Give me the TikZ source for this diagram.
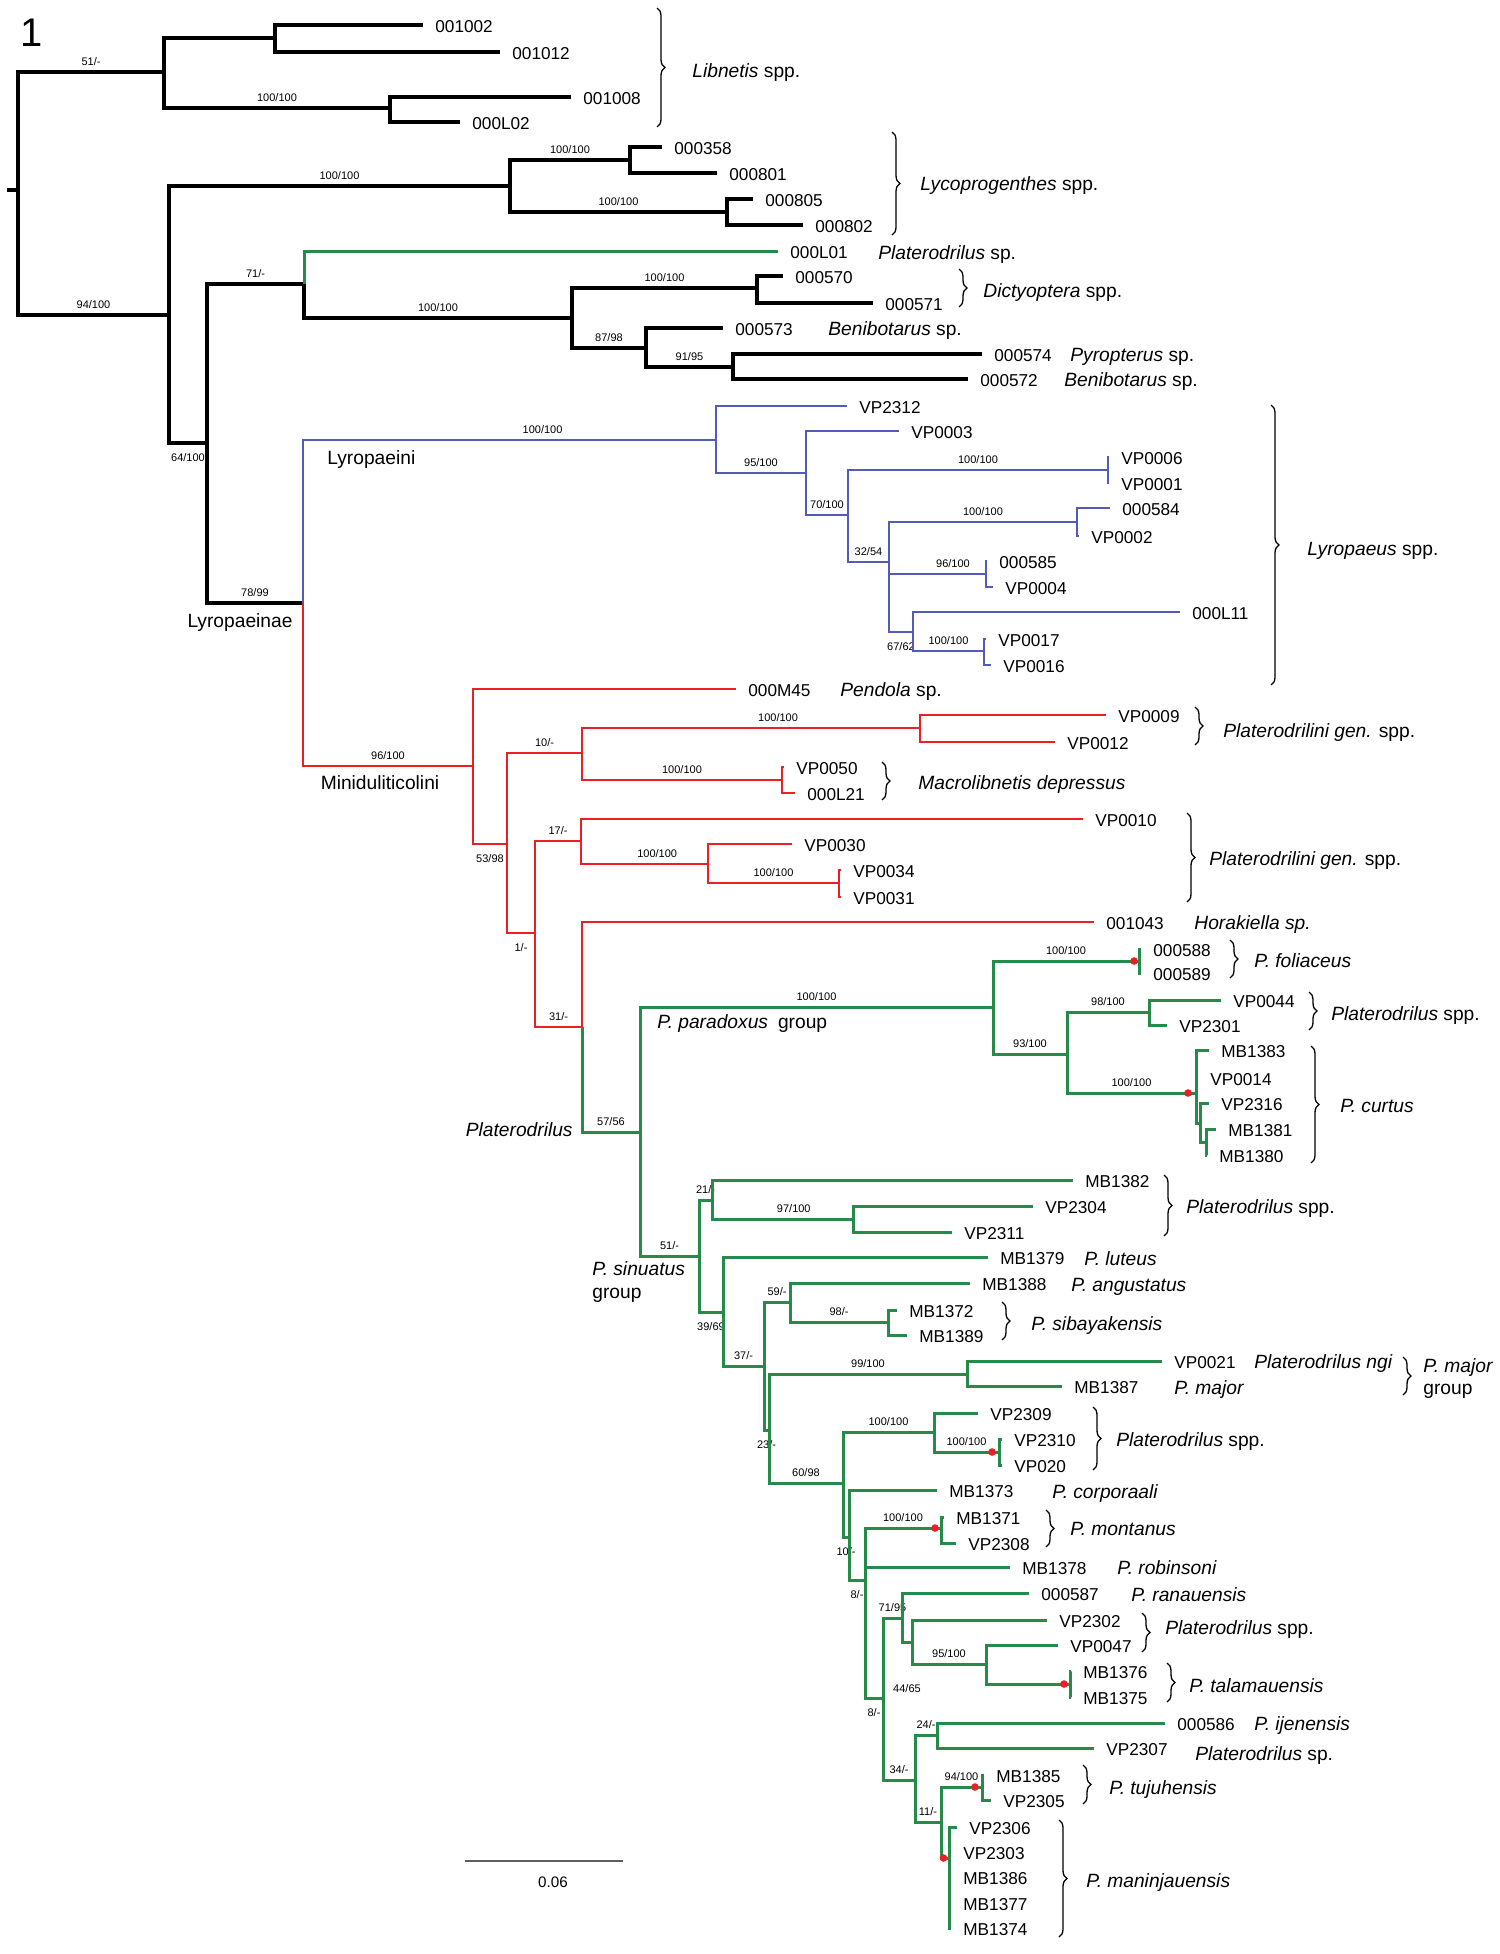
\documentclass[tikz,border=0pt]{standalone}
\usepackage{fontspec}
\setmainfont{Liberation Sans}
\usepackage{xcolor}
\usepackage{tikz}
\usetikzlibrary{decorations.pathreplacing}

\definecolor{brgreen}{RGB}{38,139,74}
\definecolor{brred}{RGB}{236,32,36}
\definecolor{brblue}{RGB}{82,92,184}
\definecolor{bargray}{RGB}{95,95,95}

\begin{document}
\begin{tikzpicture}[
    x=0.5pt, y=-0.5pt,
    blk/.style={draw=black, line width=1.6pt},
    grn/.style={draw=brgreen, line width=1.5pt},
    rd/.style={draw=brred, line width=1.35pt},
    blu/.style={draw=brblue, line width=1.15pt},
    taxon/.style={anchor=west, inner xsep=6pt, inner ysep=1pt, font=\fontsize{8.6}{10}\selectfont, text height=0.72em, text depth=0pt},
    spec/.style={anchor=west, inner sep=0pt, font=\fontsize{9.6}{11}\selectfont, text height=0.72em, text depth=0pt},
    clade/.style={inner sep=0pt, font=\fontsize{9.6}{11}\selectfont, text height=0.72em, text depth=0pt},
    bs/.style={font=\fontsize{5.5}{6}\selectfont, inner sep=0pt, pos=0.75, above=2.6pt},
    bsb/.style={font=\fontsize{5.5}{6}\selectfont, inner sep=0pt, pos=0.75, below=4.6pt},
    brc/.style={decorate, decoration={brace, amplitude=4pt}, draw=black, line width=0.65pt},
    rdot/.style={fill=brred}
]
    \useasboundingbox (0,0) rectangle (1499,1954);

    \node[font=\fontsize{20}{24}\selectfont, inner sep=0pt] (fignum) at (32,33) {1};

    % Gốc cây + Libnetis (y = 8 .. 127)
    \coordinate (rs) at (7,190);
    \coordinate (r0) at (18,190);
    \coordinate (nA) at (164,72);
    \coordinate (nB) at (275,38);
    \coordinate (nC) at (390,108);
    \node[taxon] (t001002) at (423,25) {001002};
    \node[taxon] (t001012) at (500,52) {001012};
    \node[taxon] (t001008) at (571,97) {001008};
    \node[taxon] (t000L02) at (460,122) {000L02};

    \draw[blk] (rs) -- (r0);
    \draw[blk] (r0) |- node[bs] (bA) {51/-} (nA);
    \draw[blk] (nA) |- (nB);
    \draw[blk] (nB) |- (t001002.west);
    \draw[blk] (nB) |- (t001012.west);
    \draw[blk] (nA) |- node[bs] (bC) {100/100} (nC);
    \draw[blk] (nC) |- (t001008.west);
    \draw[blk] (nC) |- (t000L02.west);

    % Lycoprogenthes (y = 132 .. 235)
    \coordinate (nD) at (169,315);
    \coordinate (nE) at (510,186);
    \coordinate (nF) at (630,160);
    \coordinate (nG) at (727,212);
    \node[taxon] (t000358) at (662,147) {000358};
    \node[taxon] (t000801) at (717,173) {000801};
    \node[taxon] (t000805) at (753,199) {000805};
    \node[taxon] (t000802) at (803,225) {000802};

    \draw[blk] (r0) |- node[bs] (bD) {94/100} (nD);
    \draw[blk] (nD) |- node[bs] (bE) {100/100} (nE);
    \draw[blk] (nE) |- node[bs] (bF) {100/100} (nF);
    \draw[blk] (nF) |- (t000358.west);
    \draw[blk] (nF) |- (t000801.west);
    \draw[blk] (nE) |- node[bs] (bG) {100/100} (nG);
    \draw[blk] (nG) |- (t000805.west);
    \draw[blk] (nG) |- (t000802.west);

    % 000L01, Dictyoptera, Benibotarus, Pyropterus
    \coordinate (nH) at (207,443);
    \coordinate (nI) at (304,284);
    \coordinate (nJ) at (572,318);
    \coordinate (nK) at (757,288);
    \coordinate (nL) at (646,348);
    \coordinate (nM) at (733,367);
    \node[taxon] (t000L01) at (778,251) {000L01};
    \node[taxon] (t000570) at (783,276) {000570};
    \node[taxon] (t000571) at (873,303) {000571};
    \node[taxon] (t000573) at (723,328) {000573};
    \node[taxon] (t000574) at (982,354) {000574};
    \node[taxon] (t000572) at (968,379) {000572};

    \draw[blk] (nD) |- node[bsb] (bH) {64/100} (nH);
    \draw[blk] (nH) |- node[bs] (bI) {71/-} (nI);
    \draw[grn] (nI) |- (t000L01.west);
    \draw[blk] (nI) |- node[bs] (bJ) {100/100} (nJ);
    \draw[blk] (nJ) |- node[bs] (bK) {100/100} (nK);
    \draw[blk] (nK) |- (t000570.west);
    \draw[blk] (nK) |- (t000571.west);
    \draw[blk] (nJ) |- node[bs] (bL) {87/98} (nL);
    \draw[blk] (nL) |- (t000573.west);
    \draw[blk] (nL) |- node[bs] (bM) {91/95} (nM);
    \draw[blk] (nM) |- (t000574.west);
    \draw[blk] (nM) |- (t000572.west);

    % Lyropaeinae -> Lyropaeini (xanh dương)
    \coordinate (nN) at (303,603);
    \coordinate (nO) at (716,440);
    \coordinate (nP) at (806,473);
    \coordinate (nQ) at (848,515);
    \coordinate (nQa) at (1108,470);
    \coordinate (nR) at (889,562);
    \coordinate (nS) at (1077,522);
    \coordinate (nT) at (986,574);
    \coordinate (nU) at (913,632);
    \coordinate (nV) at (984,651);
    \node[taxon] (tVP2312) at (847,406) {VP2312};
    \node[taxon] (tVP0003) at (899,431) {VP0003};
    \node[taxon] (tVP0006) at (1109,457) {VP0006};
    \node[taxon] (tVP0001) at (1109,483) {VP0001};
    \node[taxon] (t000584) at (1110,508) {000584};
    \node[taxon] (tVP0002) at (1079,536) {VP0002};
    \node[taxon] (t000585) at (987,561) {000585};
    \node[taxon] (tVP0004) at (993,587) {VP0004};
    \node[taxon] (t000L11) at (1180,612) {000L11};
    \node[taxon] (tVP0017) at (986,639) {VP0017};
    \node[taxon] (tVP0016) at (991,665) {VP0016};

    \draw[blk] (nH) |- node[bs] (bN) {78/99} (nN);
    \draw[blu] (nN) |- node[bs, pos=0.79] (bO) {100/100} (nO);
    \draw[blu] (nO) |- (tVP2312.west);
    \draw[blu] (nO) |- node[bs] (bP) {95/100} (nP);
    \draw[blu] (nP) |- (tVP0003.west);
    \draw[blu] (nP) |- node[bs] (bQ) {70/100} (nQ);
    \draw[blu] (nQ) |- node[bs] (bQa) {100/100} (nQa);
    \draw[blu] (nQa) |- (tVP0006.west);
    \draw[blu] (nQa) |- (tVP0001.west);
    \draw[blu] (nQ) |- node[bs] (bR) {32/54} (nR);
    \draw[blu] (nR) |- node[bs] (bS) {100/100} (nS);
    \draw[blu] (nS) |- (t000584.west);
    \draw[blu] (nS) |- (tVP0002.west);
    \draw[blu] (nR) |- node[bs, pos=0.83] (bT) {96/100} (nT);
    \draw[blu] (nT) |- (t000585.west);
    \draw[blu] (nT) |- (tVP0004.west);
    \draw[blu] (nR) |- node[bsb] (bU) {67/62} (nU);
    \draw[blu] (nU) |- (t000L11.west);
    \draw[blu] (nU) |- node[bs] (bV) {100/100} (nV);
    \draw[blu] (nV) |- (tVP0017.west);
    \draw[blu] (nV) |- (tVP0016.west);

    % Miniduliticolini (đỏ)
    \coordinate (nW) at (473,766);
    \coordinate (nX) at (507,844);
    \coordinate (nY) at (582,753);
    \coordinate (nZ) at (920,728);
    \coordinate (nYb) at (782,780);
    \coordinate (nAA) at (535,933);
    \coordinate (nAB) at (581,841);
    \coordinate (nAC) at (708,864);
    \coordinate (nAD) at (839,883);
    \coordinate (nAE) at (582,1027);
    \node[taxon] (t000M45) at (736,689) {000M45};
    \node[taxon] (tVP0009) at (1106,715) {VP0009};
    \node[taxon] (tVP0012) at (1055,742) {VP0012};
    \node[taxon] (tVP0050) at (784,767) {VP0050};
    \node[taxon] (t000L21) at (795,793) {000L21};
    \node[taxon] (tVP0010) at (1083,819) {VP0010};
    \node[taxon] (tVP0030) at (792,844) {VP0030};
    \node[taxon] (tVP0034) at (841,870) {VP0034};
    \node[taxon] (tVP0031) at (841,897) {VP0031};
    \node[taxon] (t001043) at (1094,922) {001043};

    \draw[rd] (nN) |- node[bs] (bW) {96/100} (nW);
    \draw[rd] (nW) |- (t000M45.west);
    \draw[rd] (nW) |- node[bsb] (bX) {53/98} (nX);
    \draw[rd] (nX) |- node[bs] (bY) {10/-} (nY);
    \draw[rd] (nY) |- node[bs, pos=0.79] (bZ) {100/100} (nZ);
    \draw[rd] (nZ) |- (tVP0009.west);
    \draw[rd] (nZ) |- (tVP0012.west);
    \draw[rd] (nY) |- node[bs] (bYb) {100/100} (nYb);
    \draw[rd] (nYb) |- (tVP0050.west);
    \draw[rd] (nYb) |- (t000L21.west);
    \draw[rd] (nX) |- node[bsb] (bAA) {1/-} (nAA);
    \draw[rd] (nAA) |- node[bs] (bAB) {17/-} (nAB);
    \draw[rd] (nAB) |- (tVP0010.west);
    \draw[rd] (nAB) |- node[bs, pos=0.8] (bAC) {100/100} (nAC);
    \draw[rd] (nAC) |- (tVP0030.west);
    \draw[rd] (nAC) |- node[bs] (bAD) {100/100} (nAD);
    \draw[rd] (nAD) |- (tVP0034.west);
    \draw[rd] (nAD) |- (tVP0031.west);
    \draw[rd] (nAA) |- node[bs] (bAE) {31/-} (nAE);
    \draw[rd] (nAE) |- (t001043.west);

    % Platerodrilus: nhóm P. paradoxus (xanh lá)
    \coordinate (nAF) at (640,1132);
    \coordinate (nAG) at (993,1007);
    \coordinate (nAGa) at (1139,961);
    \coordinate (nAH) at (1067,1054);
    \coordinate (nAI) at (1149,1012);
    \coordinate (nAJ) at (1196,1093);
    \coordinate (nAJb) at (1200,1123);
    \coordinate (nAJc) at (1206,1142);
    \node[taxon] (t000588) at (1141,949) {000588};
    \node[taxon] (t000589) at (1141,973) {000589};
    \node[taxon] (tVP0044) at (1221,1000) {VP0044};
    \node[taxon] (tVP2301) at (1167,1025) {VP2301};
    \node[taxon] (tMB1383) at (1209,1050) {MB1383};
    \node[taxon] (tVP0014) at (1198,1078) {VP0014};
    \node[taxon] (tVP2316) at (1209,1103) {VP2316};
    \node[taxon] (tMB1381) at (1216,1129) {MB1381};
    \node[taxon] (tMB1380) at (1207,1155) {MB1380};

    \draw[grn] (nAE) |- node[bs] (bAF) {57/56} (nAF);
    \draw[grn] (nAF) |- node[bs] (bAG) {100/100} (nAG);
    \draw[grn] (nAG) |- node[bs] (bAGa) {100/100} (nAGa);
    \draw[grn] (nAGa) |- (t000588.west);
    \draw[grn] (nAGa) |- (t000589.west);
    \draw[grn] (nAG) |- node[bs] (bAH) {93/100} (nAH);
    \draw[grn] (nAH) |- node[bs] (bAI) {98/100} (nAI);
    \draw[grn] (nAI) |- (tVP0044.west);
    \draw[grn] (nAI) |- (tVP2301.west);
    \draw[grn] (nAH) |- node[bs] (bAJ) {100/100} (nAJ);
    \draw[grn] (nAJ) |- (tMB1383.west);
    \draw[grn] (nAJ) |- (nAJb);
    \draw[grn] (nAJb) |- (tVP2316.west);
    \draw[grn] (nAJb) |- (nAJc);
    \draw[grn] (nAJc) |- (tMB1381.west);
    \draw[grn] (nAJc) |- (tMB1380.west);

    % Platerodrilus: nhóm P. sinuatus
    \coordinate (nAK) at (699,1256);
    \coordinate (nAL) at (712,1200);
    \coordinate (nAM) at (853,1219);
    \coordinate (nAN) at (723,1312);
    \coordinate (nAO) at (764,1366);
    \coordinate (nAP) at (790,1302);
    \coordinate (nAR) at (888,1322);
    \coordinate (nAQ) at (769,1430);
    \coordinate (nAS) at (967,1374);
    \node[taxon] (tMB1382) at (1073,1180) {MB1382};
    \node[taxon] (tVP2304) at (1033,1206) {VP2304};
    \node[taxon] (tVP2311) at (952,1232) {VP2311};
    \node[taxon] (tMB1379) at (988,1257) {MB1379};
    \node[taxon] (tMB1388) at (970,1283) {MB1388};
    \node[taxon] (tMB1372) at (897,1310) {MB1372};
    \node[taxon] (tMB1389) at (907,1335) {MB1389};
    \node[taxon] (tVP0021) at (1162,1361) {VP0021};
    \node[taxon] (tMB1387) at (1062,1386) {MB1387};

    \draw[grn] (nAF) |- node[bs] (bAK) {51/-} (nAK);
    \draw[grn] (nAK) |- node[bs] (bAL) {21/-} (nAL);
    \draw[grn] (nAL) |- (tMB1382.west);
    \draw[grn] (nAL) |- node[bs, pos=0.79] (bAM) {97/100} (nAM);
    \draw[grn] (nAM) |- (tVP2304.west);
    \draw[grn] (nAM) |- (tVP2311.west);
    \draw[grn] (nAK) |- node[bsb] (bAN) {39/69} (nAN);
    \draw[grn] (nAN) |- (tMB1379.west);
    \draw[grn] (nAN) |- node[bs] (bAO) {37/-} (nAO);
    \draw[grn] (nAO) |- node[bs] (bAP) {59/-} (nAP);
    \draw[grn] (nAP) |- (tMB1388.west);
    \draw[grn] (nAP) |- node[bs] (bAR) {98/-} (nAR);
    \draw[grn] (nAR) |- (tMB1372.west);
    \draw[grn] (nAR) |- (tMB1389.west);
    \draw[grn] (nAO) |- node[bsb] (bAQ) {23/-} (nAQ);
    \draw[grn] (nAQ) |- node[bs] (bAS) {99/100} (nAS);
    \draw[grn] (nAS) |- (tVP0021.west);
    \draw[grn] (nAS) |- (tMB1387.west);

    % Platerodrilus: các nhánh dưới cùng
    \coordinate (nAT) at (843,1483);
    \coordinate (nAU) at (934,1432);
    \coordinate (nAV) at (999,1452);
    \coordinate (nAW) at (849,1537);
    \coordinate (nAX) at (865,1580);
    \coordinate (nAXa) at (941,1528);
    \coordinate (nAY) at (883,1698);
    \coordinate (nAZ) at (902,1618);
    \coordinate (nBA) at (912,1642);
    \coordinate (nBB) at (986,1664);
    \coordinate (nBBa) at (1070,1684);
    \coordinate (nBC) at (915,1780);
    \coordinate (nBD) at (937,1735);
    \coordinate (nBE) at (941,1822);
    \coordinate (nBF) at (982,1787);
    \coordinate (nBG) at (949,1858);
    \node[taxon] (tVP2309) at (978,1413) {VP2309};
    \node[taxon] (tVP2310) at (1002,1439) {VP2310};
    \node[taxon] (tVP020) at (1002,1465) {VP020};
    \node[taxon] (tMB1373) at (937,1490) {MB1373};
    \node[taxon] (tMB1371) at (944,1517) {MB1371};
    \node[taxon] (tVP2308) at (956,1543) {VP2308};
    \node[taxon] (tMB1378) at (1010,1567) {MB1378};
    \node[taxon] (t000587) at (1029,1593) {000587};
    \node[taxon] (tVP2302) at (1047,1620) {VP2302};
    \node[taxon] (tVP0047) at (1058,1645) {VP0047};
    \node[taxon] (tMB1376) at (1071,1671) {MB1376};
    \node[taxon] (tMB1375) at (1071,1697) {MB1375};
    \node[taxon] (t000586) at (1165,1723) {000586};
    \node[taxon] (tVP2307) at (1094,1748) {VP2307};
    \node[taxon] (tMB1385) at (984,1775) {MB1385};
    \node[taxon] (tVP2305) at (991,1800) {VP2305};
    \node[taxon] (tVP2306) at (957,1827) {VP2306};
    \node[taxon] (tVP2303) at (951,1852) {VP2303};
    \node[taxon] (tMB1386) at (951,1877) {MB1386};
    \node[taxon] (tMB1377) at (951,1903) {MB1377};
    \node[taxon] (tMB1374) at (951,1928) {MB1374};

    \draw[grn] (nAQ) |- node[bs] (bAT) {60/98} (nAT);
    \draw[grn] (nAT) |- node[bs] (bAU) {100/100} (nAU);
    \draw[grn] (nAU) |- (tVP2309.west);
    \draw[grn] (nAU) |- node[bs] (bAV) {100/100} (nAV);
    \draw[grn] (nAV) |- (tVP2310.west);
    \draw[grn] (nAV) |- (tVP020.west);
    \draw[grn] (nAT) |- node[bsb] (bAW) {10/-} (nAW);
    \draw[grn] (nAW) |- (tMB1373.west);
    \draw[grn] (nAW) |- node[bsb] (bAX) {8/-} (nAX);
    \draw[grn] (nAX) |- node[bs] (bAXa) {100/100} (nAXa);
    \draw[grn] (nAXa) |- (tMB1371.west);
    \draw[grn] (nAXa) |- (tVP2308.west);
    \draw[grn] (nAX) |- (tMB1378.west);
    \draw[grn] (nAX) |- node[bsb] (bAY) {8/-} (nAY);
    \draw[grn] (nAY) |- node[bs] (bAZ) {71/95} (nAZ);
    \draw[grn] (nAZ) |- (t000587.west);
    \draw[grn] (nAZ) |- node[bsb, below=16pt] (bBA) {44/65} (nBA);
    \draw[grn] (nBA) |- (tVP2302.west);
    \draw[grn] (nBA) |- node[bs] (bBB) {95/100} (nBB);
    \draw[grn] (nBB) |- (tVP0047.west);
    \draw[grn] (nBB) |- (nBBa);
    \draw[grn] (nBBa) |- (tMB1376.west);
    \draw[grn] (nBBa) |- (tMB1375.west);
    \draw[grn] (nAY) |- node[bs] (bBC) {34/-} (nBC);
    \draw[grn] (nBC) |- node[bs] (bBD) {24/-} (nBD);
    \draw[grn] (nBD) |- (t000586.west);
    \draw[grn] (nBD) |- (tVP2307.west);
    \draw[grn] (nBC) |- node[bs] (bBE) {11/-} (nBE);
    \draw[grn] (nBE) |- node[bs] (bBF) {94/100} (nBF);
    \draw[grn] (nBF) |- (tMB1385.west);
    \draw[grn] (nBF) |- (tVP2305.west);
    \draw[grn] (nBE) |- (nBG);
    \draw[grn] (nBG) |- (tVP2306.west);
    \draw[grn] (nBG) |- (tMB1374.west);

    % chấm đỏ
    \fill[rdot] ([xshift=-2.5pt]nAGa) circle (1.9pt);
    \fill[rdot] ([xshift=-4pt]nAJ) circle (1.9pt);
    \fill[rdot] ([xshift=-3.5pt]nAV) circle (1.9pt);
    \fill[rdot] ([xshift=-3pt]nAXa) circle (1.9pt);
    \fill[rdot] ([xshift=-3pt]nBBa) circle (1.9pt);
    \fill[rdot] ([xshift=-3.5pt]nBF) circle (1.9pt);
    \fill[rdot] ([xshift=-2.75pt]nBG) circle (1.9pt);

    % ngoặc nhọn
    \draw[brc] (657,8) -- (657,127);
    \draw[brc] (892,132) -- (892,235);
    \draw[brc] (959,269) -- (959,307);
    \draw[brc] (1271,405) -- (1271,685);
    \draw[brc] (1195,707) -- (1195,745);
    \draw[brc] (882,762) -- (882,800);
    \draw[brc] (1187,813) -- (1187,902);
    \draw[brc] (1230,940) -- (1230,978);
    \draw[brc] (1309,992) -- (1309,1030);
    \draw[brc] (1311,1046) -- (1311,1163);
    \draw[brc] (1164,1175) -- (1164,1236);
    \draw[brc] (1002,1302) -- (1002,1340);
    \draw[brc] (1403,1357) -- (1403,1395);
    \draw[brc] (1093,1407) -- (1093,1470);
    \draw[brc] (1046,1510) -- (1046,1547);
    \draw[brc] (1142,1613) -- (1142,1652);
    \draw[brc] (1167,1663) -- (1167,1702);
    \draw[brc] (1083,1765) -- (1083,1804);
    \draw[brc] (1059,1820) -- (1059,1937);

    % tên loài
    \node[spec] (lbLib) at (692,70) {\textit{Libnetis} spp.};
    \node[spec] (lbLyc) at (920,183) {\textit{Lycoprogenthes} spp.};
    \node[spec] (lbPla1) at (878,252) {\textit{Platerodrilus} sp.};
    \node[spec] (lbDic) at (983,290) {\textit{Dictyoptera} spp.};
    \node[spec] (lbBen1) at (828,328) {\textit{Benibotarus} sp.};
    \node[spec] (lbPyr) at (1070,354) {\textit{Pyropterus} sp.};
    \node[spec] (lbBen2) at (1064,379) {\textit{Benibotarus} sp.};
    \node[spec] (lbLyr) at (1307,548) {\textit{Lyropaeus} spp.};
    \node[spec] (lbPen) at (840,689) {\textit{Pendola} sp.};
    \node[spec] (lbPgen1) at (1223,730) {\textit{Platerodrilini gen.} spp.};
    \node[spec] (lbMac) at (918,782) {\textit{Macrolibnetis depressus}};
    \node[spec] (lbPgen2) at (1209,858) {\textit{Platerodrilini gen.} spp.};
    \node[spec] (lbHor) at (1194,922) {\textit{Horakiella sp.}};
    \node[spec] (lbFol) at (1254,960) {\textit{P. foliaceus}};
    \node[spec] (lbPla2) at (1331,1013) {\textit{Platerodrilus} spp.};
    \node[spec] (lbCur) at (1340,1105) {\textit{P. curtus}};
    \node[spec] (lbPla3) at (1186,1206) {\textit{Platerodrilus} spp.};
    \node[spec] (lbLut) at (1084,1258) {\textit{P. luteus}};
    \node[spec] (lbAng) at (1071,1284) {\textit{P. angustatus}};
    \node[spec] (lbSib) at (1031,1323) {\textit{P. sibayakensis}};
    \node[spec] (lbNgi) at (1254,1361) {\textit{Platerodrilus ngi}};
    \node[spec] (lbMaj) at (1174,1387) {\textit{P. major}};
    \node[spec] (lbMajG1) at (1423,1365) {\textit{P. major}};
    \node[spec] (lbMajG2) at (1423,1387) {group};
    \node[spec] (lbPla4) at (1116,1439) {\textit{Platerodrilus} spp.};
    \node[spec] (lbCor) at (1052,1491) {\textit{P. corporaali}};
    \node[spec] (lbMon) at (1070,1528) {\textit{P. montanus}};
    \node[spec] (lbRob) at (1117,1567) {\textit{P. robinsoni}};
    \node[spec] (lbRan) at (1131,1594) {\textit{P. ranauensis}};
    \node[spec] (lbPla5) at (1165,1627) {\textit{Platerodrilus} spp.};
    \node[spec] (lbTal) at (1189,1685) {\textit{P. talamauensis}};
    \node[spec] (lbIje) at (1254,1723) {\textit{P. ijenensis}};
    \node[spec] (lbPla6) at (1195,1753) {\textit{Platerodrilus} sp.};
    \node[spec] (lbTuj) at (1109,1787) {\textit{P. tujuhensis}};
    \node[spec] (lbMan) at (1086,1880) {\textit{P. maninjauensis}};

    % tên nhánh
    \node[clade, anchor=west] (lbLyi) at (327,457) {Lyropaeini};
    \node[clade] (lbLye) at (240,620) {Lyropaeinae};
    \node[clade] (lbMin) at (380,782) {Miniduliticolini};
    \node[clade, anchor=east] (lbPlat) at (573,1129) {\textit{Platerodrilus}};
    \node[clade, anchor=west] (lbPar) at (657,1021) {\textit{P. paradoxus}\hspace{5pt}group};
    \node[clade, anchor=west] (lbSin1) at (592,1268) {\textit{P. sinuatus}};
    \node[clade, anchor=west] (lbSin2) at (592,1291) {group};

    % thước tỉ lệ
    \coordinate (sbL) at (465,1861);
    \coordinate (sbR) at (623,1861);
    \draw[draw=bargray, line width=1.35pt] (sbL) -- (sbR);
    \node[font=\fontsize{7.6}{9}\selectfont, inner sep=0pt] (sbTxt) at (553,1882) {0.06};
\end{tikzpicture}
\end{document}
